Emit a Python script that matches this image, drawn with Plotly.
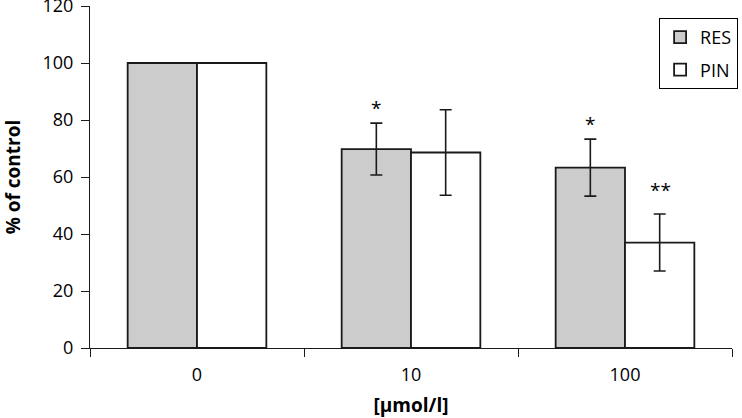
import plotly.graph_objects as go

categories = ["0", "10", "100"]
res_values = [100, 69.8, 63.3]
res_errors = [0, 9.1, 10.0]
pin_values = [100, 68.6, 37.0]
pin_errors = [0, 15.0, 10.0]
res_sig = ["", "*", "*"]
pin_sig = ["", "", "**"]
y_ticks = [0, 20, 40, 60, 80, 100, 120]

FONT = "Open Sans"
LINE = "#1a1a1a"

fig = go.Figure()
fig.add_trace(go.Bar(
    name="RES", x=categories, y=res_values,
    marker=dict(color="#cccccc", line=dict(color=LINE, width=1.8)),
    error_y=dict(type="data", array=res_errors, visible=True,
                 color=LINE, thickness=1.6, width=6),
    legendgroup="a",
))
fig.add_trace(go.Bar(
    name="PIN", x=categories, y=pin_values,
    marker=dict(color="#ffffff", line=dict(color=LINE, width=1.8)),
    error_y=dict(type="data", array=pin_errors, visible=True,
                 color=LINE, thickness=1.6, width=6),
    legendgroup="b",
))

# significance markers above error bars (x given as category index)
for i, (v, e, s) in enumerate(zip(res_values, res_errors, res_sig)):
    if s:
        fig.add_annotation(x=i, y=v + e, text=s, showarrow=False,
                           xshift=-35, yshift=0, yanchor="bottom",
                           font=dict(family=FONT, size=19, color="black"))
for i, (v, e, s) in enumerate(zip(pin_values, pin_errors, pin_sig)):
    if s:
        fig.add_annotation(x=i, y=v + e, text=s, showarrow=False,
                           xshift=35, yshift=9, yanchor="bottom",
                           font=dict(family=FONT, size=19, color="black"))

fig.update_layout(
    width=742, height=418,
    margin=dict(l=90, r=4, t=6, b=70),
    paper_bgcolor="white", plot_bgcolor="white",
    barmode="group", bargap=0.352, bargroupgap=0,
    font=dict(family=FONT, size=18, color="black"),
    showlegend=True,
    legend=dict(
        x=1.0095, xanchor="right", y=0.965, yanchor="top",
        bordercolor="black", borderwidth=1, bgcolor="white",
        font=dict(family=FONT, size=18, color="black"),
        traceorder="grouped", tracegroupgap=6,
    ),
)
fig.update_xaxes(
    type="category", range=[-0.5, 2.5],
    showline=True, linecolor=LINE, linewidth=1,
    ticks="outside", tickson="boundaries", ticklen=8, tickcolor=LINE,
    tickfont=dict(family=FONT, size=18),
    ticklabelstandoff=10,
    showgrid=False, zeroline=False,
    title=dict(text="<b>[µmol/l]</b>", font=dict(family=FONT, size=19), standoff=15),
)
fig.update_yaxes(
    range=[0, 120], tickvals=y_ticks,
    showline=True, linecolor=LINE, linewidth=1,
    ticks="outside", ticklen=8, tickcolor=LINE,
    tickfont=dict(family=FONT, size=18),
    ticklabelstandoff=4, ticklabeloverflow="allow",
    automargin=False,
    showgrid=False, zeroline=False,
    title=dict(text="<b>% of control</b>", font=dict(family=FONT, size=19), standoff=18),
)

fig.write_html("out.html", config={"displayModeBar": False},
               post_script="document.body.style.margin='0';")
